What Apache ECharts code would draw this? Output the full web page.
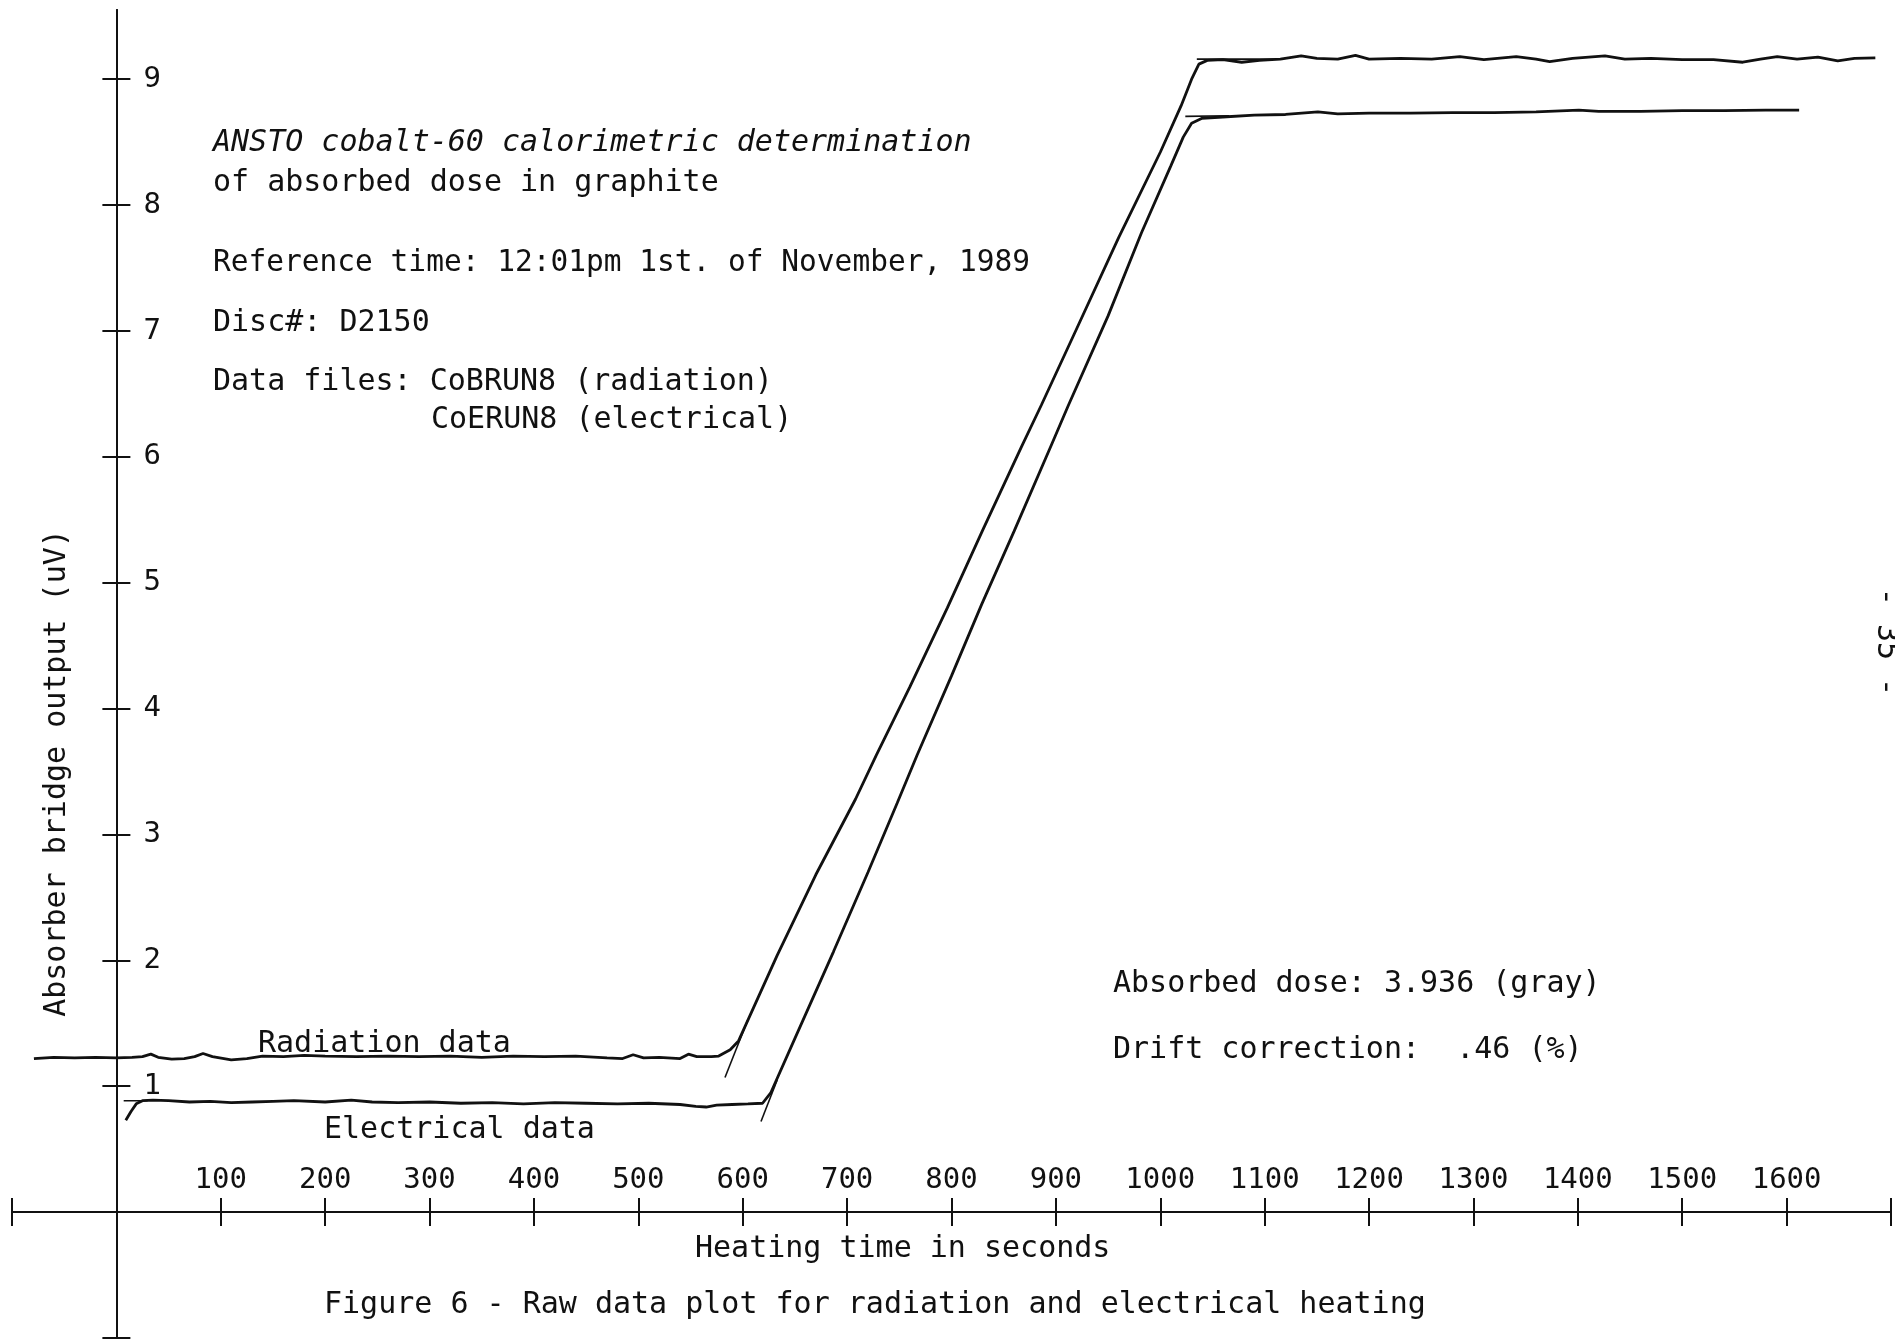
<!DOCTYPE html>
<html><head><meta charset="utf-8">
<script src="https://cdn.jsdelivr.net/npm/echarts@6/dist/echarts.min.js"></script>
<style>html,body{margin:0;padding:0;background:#fff}#c{width:1895px;height:1340px}</style>
</head><body><div id="c"></div>
<script>
// ---- Data ----
const radTime = [-79,-60,-40,-20,0,15,25,33,40,53,65,75,83,92,110,125,140,160,180,200,230,260,290,320,350,380,410,440,470,485,495,505,520,540,548,556,570,577,588,596,
  633,670,708,728,760,796,830,867,886,920,960,1000,1020,1030,1037,1045,
  1060,1078,1095,1115,1135,1150,1170,1187,1200,1230,1260,1287,1310,1341,1360,1373,1395,1426,1445,1470,1500,1530,1558,1575,1591,1610,1630,1649,1665,1685];
const radValue = [1.22,1.23,1.225,1.23,1.225,1.23,1.235,1.255,1.23,1.215,1.22,1.235,1.26,1.235,1.21,1.22,1.24,1.235,1.245,1.24,1.235,1.24,1.235,1.24,1.23,1.24,1.235,1.24,1.225,1.22,1.25,1.225,1.23,1.22,1.255,1.235,1.235,1.24,1.29,1.36,
  2.04,2.68,3.28,3.63,4.17,4.80,5.42,6.08,6.41,7.02,7.74,8.42,8.79,9.00,9.12,9.15,
  9.155,9.135,9.15,9.16,9.185,9.165,9.16,9.19,9.16,9.165,9.16,9.18,9.155,9.18,9.16,9.14,9.165,9.185,9.16,9.165,9.155,9.155,9.135,9.16,9.18,9.16,9.175,9.145,9.165,9.17];

const eleTime = [9,14,19,25,35,50,70,90,110,130,150,170,200,225,245,270,300,330,360,390,420,450,480,510,540,555,565,575,590,605,619,627,
  650,687,720,748,767,800,829,860,896,912,950,982,1010,1022,1030,1040,
  1060,1090,1120,1151,1170,1200,1240,1280,1320,1360,1401,1420,1460,1500,1540,1580,1612];
const eleValue = [0.73,0.80,0.86,0.885,0.89,0.885,0.875,0.88,0.87,0.875,0.88,0.885,0.875,0.89,0.875,0.87,0.875,0.865,0.87,0.86,0.87,0.865,0.86,0.865,0.855,0.84,0.835,0.85,0.855,0.86,0.865,0.95,
  1.38,2.07,2.70,3.25,3.63,4.26,4.83,5.41,6.10,6.41,7.12,7.78,8.31,8.54,8.65,8.69,
  8.70,8.715,8.72,8.74,8.725,8.73,8.73,8.735,8.735,8.74,8.755,8.745,8.745,8.75,8.75,8.755,8.755];

// thin fitted-line segments drawn by the plotter
const radRampFitTime = [583, 605];   const radRampFitValue = [1.07, 1.53];
const eleRampFitTime = [617.5, 633]; const eleRampFitValue = [0.72, 1.05];
const eleStartFitTime = [7, 30];     const eleStartFitValue = [0.885, 0.885];
const radTopFitTime = [1035, 1114];  const radTopFitValue = [9.16, 9.16];
const eleTopFitTime = [1024, 1066];  const eleTopFitValue = [8.705, 8.71];

// ticks and labels
const xTickValues = [-100,100,200,300,400,500,600,700,800,900,1000,1100,1200,1300,1400,1500,1600,1700];
const xLabelValues = [100,200,300,400,500,600,700,800,900,1000,1100,1200,1300,1400,1500,1600];
const yTickValues = [-1,1,2,3,4,5,6,7,8,9];
const yLabelValues = [1,2,3,4,5,6,7,8,9];

const zip = (a, b) => a.map((t, i) => [t, b[i]]);
const FONT = "'DejaVu Sans Mono', 'Liberation Mono', monospace";
const INK = '#111';

const chart = echarts.init(document.getElementById('c'), null, {renderer: 'canvas'});
const GRID = {left: 12, right: 4, top: 10, bottom: 2};

function makeX(primary, off) {
  return {
    type: 'value', min: -100, max: 1700, position: 'bottom', offset: off,
    axisLine: {show: true, onZero: false, lineStyle: {color: INK, width: 2}},
    axisTick: {show: true, customValues: xTickValues, inside: !primary, length: 14, lineStyle: {color: INK, width: 2}},
    axisLabel: primary ? {show: true, customValues: xLabelValues, inside: true, margin: 17, fontSize: 29, fontFamily: FONT, color: INK,
      formatter: v => String(v)} : {show: false},
    splitLine: {show: false}
  };
}
function makeY(primary, off) {
  return {
    type: 'value', min: -1, max: 9.55, position: 'left', offset: off,
    axisLine: {show: true, onZero: false, lineStyle: {color: INK, width: 2}},
    axisTick: {show: true, customValues: yTickValues, inside: !primary, length: 14, lineStyle: {color: INK, width: 2}},
    axisLabel: primary ? {show: true, customValues: yLabelValues, inside: true, margin: 27, fontSize: 29, fontFamily: FONT, color: INK,
      padding: [7, 0, 0, 0], formatter: v => String(v)} : {show: false},
    splitLine: {show: false}
  };
}
function lineSeries(t, v, w) {
  return {type: 'line', data: zip(t, v), showSymbol: false, symbol: 'none', smooth: false,
    lineStyle: {color: INK, width: w}, silent: true, z: 3};
}
function txt(text, x, y, opts) {
  opts = opts || {};
  return {type: 'text', x: x, y: y, rotation: opts.rot || 0, z: 10,
    style: {text: text, fill: INK, fontSize: opts.size || 30, fontFamily: FONT,
      fontStyle: opts.italic ? 'italic' : 'normal',
      align: opts.align || 'left', textAlign: opts.align || 'left',
      verticalAlign: 'middle', textVerticalAlign: 'middle'}};
}

function build(xOff, yOff) {
  return {
    animation: false,
    backgroundColor: '#fff',
    grid: Object.assign({containLabel: false}, GRID),
    xAxis: [makeX(true, xOff), makeX(false, xOff)],
    yAxis: [makeY(true, yOff), makeY(false, yOff)],
    series: [
      lineSeries(radTime, radValue, 2.8),
      lineSeries(eleTime, eleValue, 2.8),
      lineSeries(radRampFitTime, radRampFitValue, 1.6),
      lineSeries(eleRampFitTime, eleRampFitValue, 1.6),
      lineSeries(eleStartFitTime, eleStartFitValue, 1.6),
      lineSeries(radTopFitTime, radTopFitValue, 1.6),
      lineSeries(eleTopFitTime, eleTopFitValue, 1.6)
    ],
    graphic: [
      txt('ANSTO cobalt-60 calorimetric determination', 213, 143, {italic: true}),
      txt('of absorbed dose in graphite', 213, 183),
      txt('Reference time: 12:01pm 1st. of November, 1989', 213, 263, {size: 29.5}),
      txt('Disc#: D2150', 213, 323),
      txt('Data files: CoBRUN8 (radiation)', 213, 382),
      txt('CoERUN8 (electrical)', 431, 420),
      txt('Absorbed dose: 3.936 (gray)', 1113, 984),
      txt('Drift correction:  .46 (%)', 1113, 1050),
      txt('Radiation data', 258, 1044),
      txt('Electrical data', 324, 1130),
      txt('Heating time in seconds', 695, 1249),
      txt('Figure 6 - Raw data plot for radiation and electrical heating', 324, 1305),
      txt('Absorber bridge output (uV)', 57, 773, {rot: Math.PI / 2, align: 'center'}),
      txt('- 35 -', 1886, 642, {rot: -Math.PI / 2, align: 'center'})
    ]
  };
}

chart.setOption(build(0, 0));
// move the axes so that they cross at the data origin (0, 0)
const origin = chart.convertToPixel({gridIndex: 0}, [0, 0]);
const gridBottom = 1340 - GRID.bottom;
const xOffset = -(gridBottom - origin[1]);
const yOffset = -(origin[0] - GRID.left);
chart.setOption(build(xOffset, yOffset), true);
</script>
</body></html>
